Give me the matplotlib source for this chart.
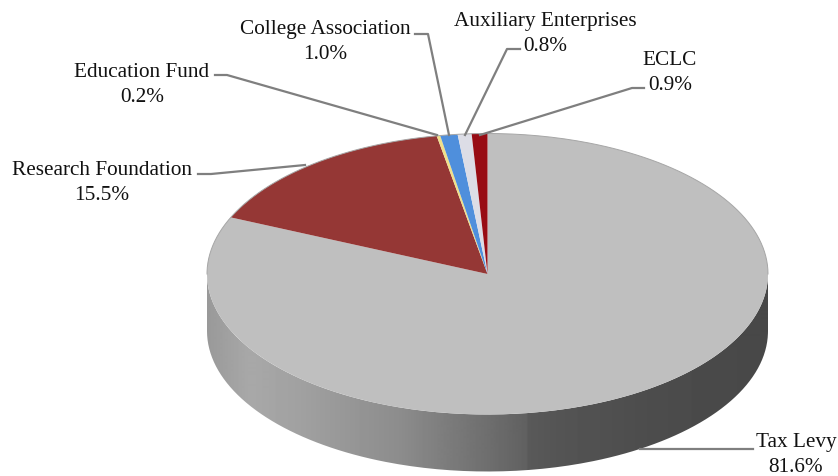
import numpy as np
import matplotlib
matplotlib.use("Agg")
import matplotlib.pyplot as plt
from matplotlib.patches import PathPatch
from matplotlib.path import Path

# Data
categories = ["Tax Levy", "Research Foundation", "Education Fund",
              "College Association", "Auxiliary Enterprises", "ECLC"]
shares = [81.6, 15.5, 0.2, 1.0, 0.8, 0.9]
slice_colors = ["#bfbfbf", "#953735", "#f0e08a", "#4f8fdc", "#dcdde6", "#980c14"]

# Label layout in image pixels: text centre, then leader points
label_pos = [(796, 455), (102, 183), (142, 85), (325, 42), (545, 34), (670, 73)]
leaders = [
    [(753, 449), (640, 449)],
    [(198, 174), (211, 174), (305, 165)],
    [(215, 75), (227, 75), (437, 135)],
    [(415, 34), (428, 34), (449, 135)],
    [(520, 49), (507, 49), (465, 135)],
    [(644, 88), (632, 88), (480, 135)],
]

# Pie geometry in image pixels
CX, CY = 487.5, 274.0
RX, RY = 280.5, 140.5
DEPTH = 57.0
W, H = 838, 476

# Side shading, gray level by image x
side_x = [207, 250, 300, 400, 490, 526, 528, 560, 650, 768]
side_gray = [0.60, 0.66, 0.63, 0.55, 0.43, 0.38, 0.35, 0.33, 0.30, 0.28]

fig = plt.figure(figsize=(W / 100, H / 100), dpi=100)
ax = fig.add_axes([0, 0, 1, 1])

ax.pie(shares, colors=slice_colors, startangle=90, counterclock=False,
       radius=1, wedgeprops={"linewidth": 0, "zorder": 3})
ax.set_aspect("auto")
xlim = (-CX / RX, (W - CX) / RX)
ylim = ((CY - H) / RY, CY / RY)

# Side wall, a gradient clipped to the lower half of the ellipse
t = np.linspace(np.pi, 2 * np.pi, 200)
drop = DEPTH / RY
ring_x = np.r_[np.cos(t), np.cos(t[::-1])]
ring_y = np.r_[np.sin(t) - drop, np.sin(t[::-1])]
side = PathPatch(Path(np.c_[ring_x, ring_y]), fc="none", ec="none", transform=ax.transData)
ax.add_patch(side)
px = np.arange(W)
gray = np.interp(px, side_x, side_gray).reshape(1, -1)
img = ax.imshow(gray, cmap="gray", vmin=0, vmax=1, aspect="auto", zorder=2,
                extent=(xlim[0], xlim[1], ylim[0], ylim[1]))
img.set_clip_path(side)

# Thin rim along the back edge
t = np.linspace(0, np.pi, 200)
ax.plot(np.cos(t), np.sin(t), color="#a6a6a6", lw=0.7, zorder=4)

ax.set_xlim(*xlim)
ax.set_ylim(*ylim)
ax.axis("off")

# Overlay in image pixels for labels and leaders
over = fig.add_axes([0, 0, 1, 1], facecolor="none")
over.set_xlim(0, W)
over.set_ylim(H, 0)
over.axis("off")

for name, share, pos, pts in zip(categories, shares, label_pos, leaders):
    xs, ys = zip(*pts)
    over.plot(xs, ys, color="#7f7f7f", lw=1.6, solid_joinstyle="round", zorder=5)
    over.text(pos[0], pos[1], f"{name}\n{share:.1f}%", ha="center", va="center",
              family="Liberation Serif", fontsize=15.3, color="#111111",
              linespacing=1.4, zorder=6)

fig.savefig("out.png", dpi=100)
